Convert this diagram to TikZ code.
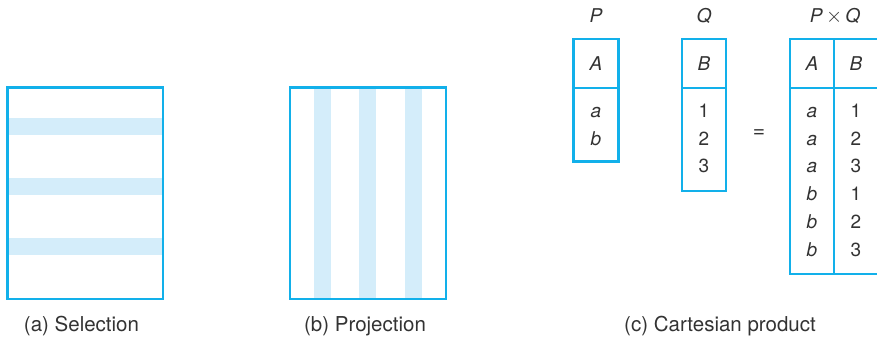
\documentclass[tikz,border=0pt]{standalone}
\usepackage{fontspec}
\setsansfont{TeX Gyre Heros}
\usepackage{tikz}
\usetikzlibrary{positioning}
\definecolor{cyanline}{HTML}{12B0EA}
\definecolor{lightcyan}{HTML}{D4EDFA}
\definecolor{inkgray}{HTML}{333333}

\begin{document}
\begin{tikzpicture}[x=1pt,y=-1pt,font=\fontsize{19}{23}\selectfont\sffamily,
  frame/.style={draw=cyanline,line width=2.4pt},
  band/.style={fill=lightcyan},
  entry/.style={text=inkgray,anchor=base,inner sep=0pt},
  var/.style={entry,font=\fontsize{19}{23}\selectfont\sffamily\itshape},
  caption/.style={text=inkgray,anchor=base,inner sep=0pt,font=\fontsize{20.5}{24}\selectfont\sffamily}]
\useasboundingbox (0,0) rectangle (877,339);
\clip (0,0) rectangle (877,339);
% (a) selection: rows picked out
\foreach \y in {126.5,186.5,246.5}
  \fill[band] (7.5,\y-8.8) rectangle (163,\y+8.8);
\draw[frame] (7.5,87.5) rectangle (163,299);
\node[caption] (capSel) at (81.5,331.5) {(a) Selection};
% (b) projection: columns picked out
\foreach \x in {322.3,367.7,413.3}
  \fill[band] (\x-8.7,87.5) rectangle (\x+8.7,299);
\draw[frame] (290,87.5) rectangle (445.7,299);
\node[caption] (capProj) at (365,331.5) {(b) Projection};
% (c) cartesian product
\coordinate (P0) at (573.3,39.3); \coordinate (P1) at (618.3,161.7);
\draw[frame] (P0) rectangle (P1);
\draw[frame] (573.3,88) -- (618.3,88);
\node[var] (pName) at (596,22.7) {P};
\node[var] (pHead) at (596,70.7) {A};
\node[var] (pa) at (596,117.5) {a};
\node[var] (pb) at (596,145.2) {b};

\coordinate (Q0) at (681.7,39.3); \coordinate (Q1) at (726,190.7);
\draw[frame] (Q0) rectangle (Q1);
\draw[frame] (681.7,88) -- (726,88);
\node[var] (qName) at (704,22.7) {Q};
\node[var] (qHead) at (704,70.7) {B};
\foreach \v [count=\i from 0] in {1,2,3}
  \node[entry] (q\v) at (704,117.5+27.7*\i) {\v};

\node[text=inkgray,font=\fontsize{21}{24}\selectfont\sffamily] (eq) at (759,134) {=};

\coordinate (R0) at (790,39.3); \coordinate (R1) at (879,274);
\draw[frame] (R0) rectangle (R1);
\draw[frame] (834,39.3) -- (834,274);
\draw[frame] (790,88) -- (879,88);
\node[entry] (rName) at (835,22.7) {\textit{P}\,{\fontsize{22}{24}\selectfont$\times$}\,\textit{Q}};
\node[var] (rHeadA) at (812,70.7) {A};
\node[var] (rHeadB) at (856,70.7) {B};
\foreach \a/\b [count=\i from 0] in {a/1,a/2,a/3,b/1,b/2,b/3} {
  \node[var] (ra\i) at (812,117.5+27.7*\i) {\a};
  \node[entry] (rb\i) at (856,117.5+27.7*\i) {\b};
}
\node[caption] (capProd) at (720,331.5) {(c) Cartesian product};
\end{tikzpicture}
\end{document}
